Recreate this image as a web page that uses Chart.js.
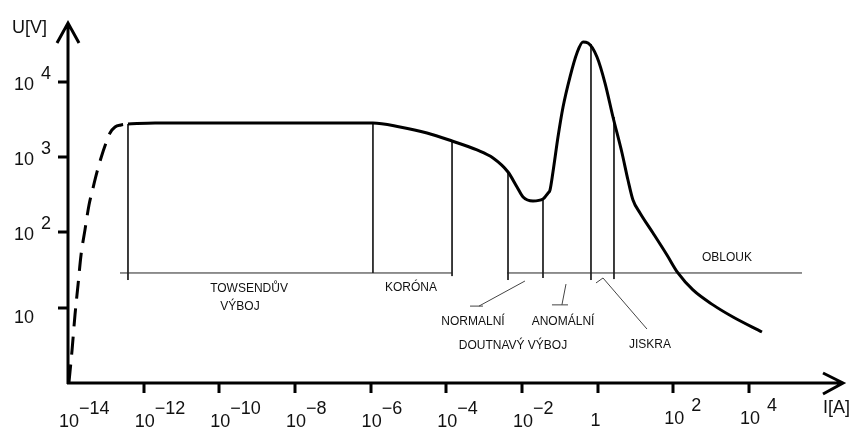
<!DOCTYPE html>
<html>
<head>
<meta charset="utf-8">
<title>VA charakteristika výboje</title>
<script src="https://cdn.jsdelivr.net/npm/chart.js"></script>
<style>
  html, body { margin: 0; padding: 0; background: #fff; }
  #box { width: 858px; height: 430px; }
</style>
</head>
<body>
<div id="box"><canvas id="chart"></canvas></div>
<script>
// nesamostatny vyboj (carkovane) - proud I [A], napeti U [V]
const darkI = [1.06e-14, 1.28e-14, 1.53e-14, 1.84e-14, 2.21e-14, 2.81e-14, 3.59e-14, 4.58e-14, 5.85e-14, 7.45e-14, 1.01e-13, 1.29e-13, 1.75e-13, 2.52e-13, 3.85e-13];
const darkU = [1.02, 2.74, 8.0, 20.0, 50.1, 108, 231, 388, 634, 972, 1538, 2088, 2506, 2667, 2748];

// samostatny vyboj (plna cara)
const mainI = [3.85e-13, 2.0e-12, 1.15e-6, 5.97e-6, 3.09e-5, 1.42e-4, 6.49e-4, 1.72e-3, 4.28e-3, 7.40e-3, 1.07e-2, 1.96e-2, 3.60e-2, 4.88e-2, 5.51e-2, 6.61e-2, 8.97e-2, 0.122, 0.186, 0.285, 0.411, 0.557, 0.964, 1.57, 2.55, 4.42, 6.35, 8.61, 13.2, 29.1, 68.2, 133, 332, 1122, 3793, 22130];
const mainU = [2748, 2833, 2833, 2506, 2088, 1634, 1242, 972, 634, 401, 295, 261, 277, 333, 365, 634, 1847, 4624, 11560, 24100, 33730, 32730, 21330, 9620, 3404, 1132, 496, 269, 181, 98.1, 50.1, 28.9, 17.2, 10.9, 7.52, 4.75];

// svisle delici cary oblasti
const dividerI = [3.85e-13, 1.15e-6, 1.42e-4, 4.28e-3, 3.60e-2, 0.668, 2.71];
const dividerTop = [2748, 2833, 1634, 634, 277, 31700, 3404];
const dividerBottom = [23.3, 28.9, 26.3, 23.3, 24.8, 23.3, 24.0];

// vodorovna zakladna
const baseU = 28.9;
const baseFrom = [2.37e-13, 4.03e-3];
const baseTo = [1.42e-4, 2.53e5];

// odkazove cary k popiskum
const leaders = [
  [[1.20e-2, 22.6], [7.31e-4, 10.5]],
  [[4.24e-4, 10.5], [9.33e-4, 10.5]],
  [[0.146, 20.6], [0.114, 10.9]],
  [[0.0622, 10.9], [0.165, 10.9]],
  [[0.906, 21.3], [1.39, 24.8], [20.2, 5.21]]
];

// popisky oblasti
const noteText = ["TOWSENDŮV", "VÝBOJ", "KORÓNA", "NORMALNÍ", "ANOMÁLNÍ", "DOUTNAVÝ VÝBOJ", "OBLOUK", "JISKRA"];
const noteI = [6.1e-10, 3.52e-10, 1.17e-5, 5.08e-4, 0.122, 5.79e-3, 2630, 24.3];
const noteU = [17.7, 10.2, 18.3, 6.46, 6.46, 3.10, 45.7, 3.20];

// popisky os (exponenty)
const xTickExp = [-14, -12, -10, -8, -6, -4, -2, 0, 2, 4];
const yTickExp = [1, 2, 3, 4];

const toPoints = (xs, ys) => xs.map((x, i) => ({ x: x, y: ys[i] }));

const datasets = [];
datasets.push({
  data: toPoints(darkI, darkU),
  borderColor: '#000', borderWidth: 3, borderDash: [18, 10],
  cubicInterpolationMode: 'monotone'
});
datasets.push({
  data: toPoints(mainI, mainU),
  borderColor: '#000', borderWidth: 3,
  cubicInterpolationMode: 'monotone'
});
dividerI.forEach((x, i) => {
  datasets.push({
    data: [{ x: x, y: dividerTop[i] }, { x: x, y: dividerBottom[i] }],
    borderColor: '#222', borderWidth: 1
  });
});
baseFrom.forEach((x, i) => {
  datasets.push({
    data: [{ x: x, y: baseU }, { x: baseTo[i], y: baseU }],
    borderColor: '#222', borderWidth: 1
  });
});
leaders.forEach((seg) => {
  datasets.push({
    data: seg.map(p => ({ x: p[0], y: p[1] })),
    borderColor: '#444', borderWidth: 1
  });
});
datasets.forEach(d => {
  d.showLine = true;
  d.pointRadius = 0;
  d.clip = false;
});

const axesPlugin = {
  id: 'axes',
  afterDraw(chart) {
    const ctx = chart.ctx;
    const xs = chart.scales.x, ys = chart.scales.y;
    const area = chart.chartArea;
    const x0 = xs.getPixelForValue(1e-14);
    const y0 = ys.getPixelForValue(1);
    ctx.save();
    ctx.strokeStyle = '#000';
    ctx.fillStyle = '#111';
    ctx.lineWidth = 3;

    // osy se sipkami
    ctx.beginPath();
    ctx.moveTo(x0, y0 + 1);
    ctx.lineTo(x0, area.top);
    ctx.moveTo(x0 - 11, area.top + 20);
    ctx.lineTo(x0, area.top);
    ctx.lineTo(x0 + 11, area.top + 20);
    ctx.moveTo(x0 - 1, y0);
    ctx.lineTo(area.right, y0);
    ctx.moveTo(area.right - 20, y0 - 10);
    ctx.lineTo(area.right, y0);
    ctx.lineTo(area.right - 20, y0 + 11);
    ctx.stroke();

    // znacky
    ctx.beginPath();
    xTickExp.slice(1).forEach(e => {
      const px = Math.round(xs.getPixelForValue(Math.pow(10, e)));
      ctx.moveTo(px, y0);
      ctx.lineTo(px, y0 + 10);
    });
    yTickExp.forEach(e => {
      const py = Math.round(ys.getPixelForValue(Math.pow(10, e)));
      ctx.moveTo(x0 - 10, py);
      ctx.lineTo(x0, py);
    });
    ctx.stroke();

    // popisky x
    ctx.font = '18px "Liberation Sans", Arial, sans-serif';
    ctx.textBaseline = 'alphabetic';
    xTickExp.forEach(e => {
      const px = xs.getPixelForValue(Math.pow(10, e));
      if (e === 0) {
        ctx.textAlign = 'center';
        ctx.fillText('1', px - 2, 426);
        return;
      }
      const neg = e < 0;
      ctx.textAlign = 'center';
      ctx.fillText('10', px + 1, neg ? 427 : 424);
      const w = ctx.measureText('10').width;
      ctx.textAlign = 'left';
      const s = neg ? '\u2212' + (-e) : String(e);
      ctx.fillText(s, px + 1 + w / 2 + (neg ? 0 : 7), neg ? 414 : 411);
    });

    // popisky y
    yTickExp.forEach(e => {
      const py = ys.getPixelForValue(Math.pow(10, e));
      ctx.textAlign = 'right';
      ctx.fillText('10', 34, py + (e === 1 ? 15 : 8));
      if (e > 1) {
        ctx.textAlign = 'left';
        ctx.fillText(String(e), 41, py - 3);
      }
    });

    ctx.textAlign = 'left';
    ctx.fillText('U[V]', 12, 33);
    ctx.fillText('I[A]', 823, 413);

    // popisky oblasti
    ctx.font = '12px "Liberation Sans", Arial, sans-serif';
    ctx.textAlign = 'center';
    ctx.textBaseline = 'middle';
    noteText.forEach((t, i) => {
      ctx.fillText(t, xs.getPixelForValue(noteI[i]), ys.getPixelForValue(noteU[i]));
    });
    ctx.restore();
  }
};

new Chart(document.getElementById('chart').getContext('2d'), {
  type: 'scatter',
  data: { datasets },
  options: {
    responsive: true,
    maintainAspectRatio: false,
    animation: false,
    layout: { padding: { left: 68, right: 15, top: 23, bottom: 47 } },
    plugins: { legend: { display: false }, tooltip: { enabled: false } },
    elements: { line: { borderCapStyle: 'butt', borderJoinStyle: 'round' } },
    scales: {
      x: { type: 'logarithmic', min: 1e-14, max: 3.07e6, display: false },
      y: { type: 'logarithmic', min: 1, max: 6.03e4, display: false }
    }
  },
  plugins: [axesPlugin]
});
</script>
</body>
</html>
